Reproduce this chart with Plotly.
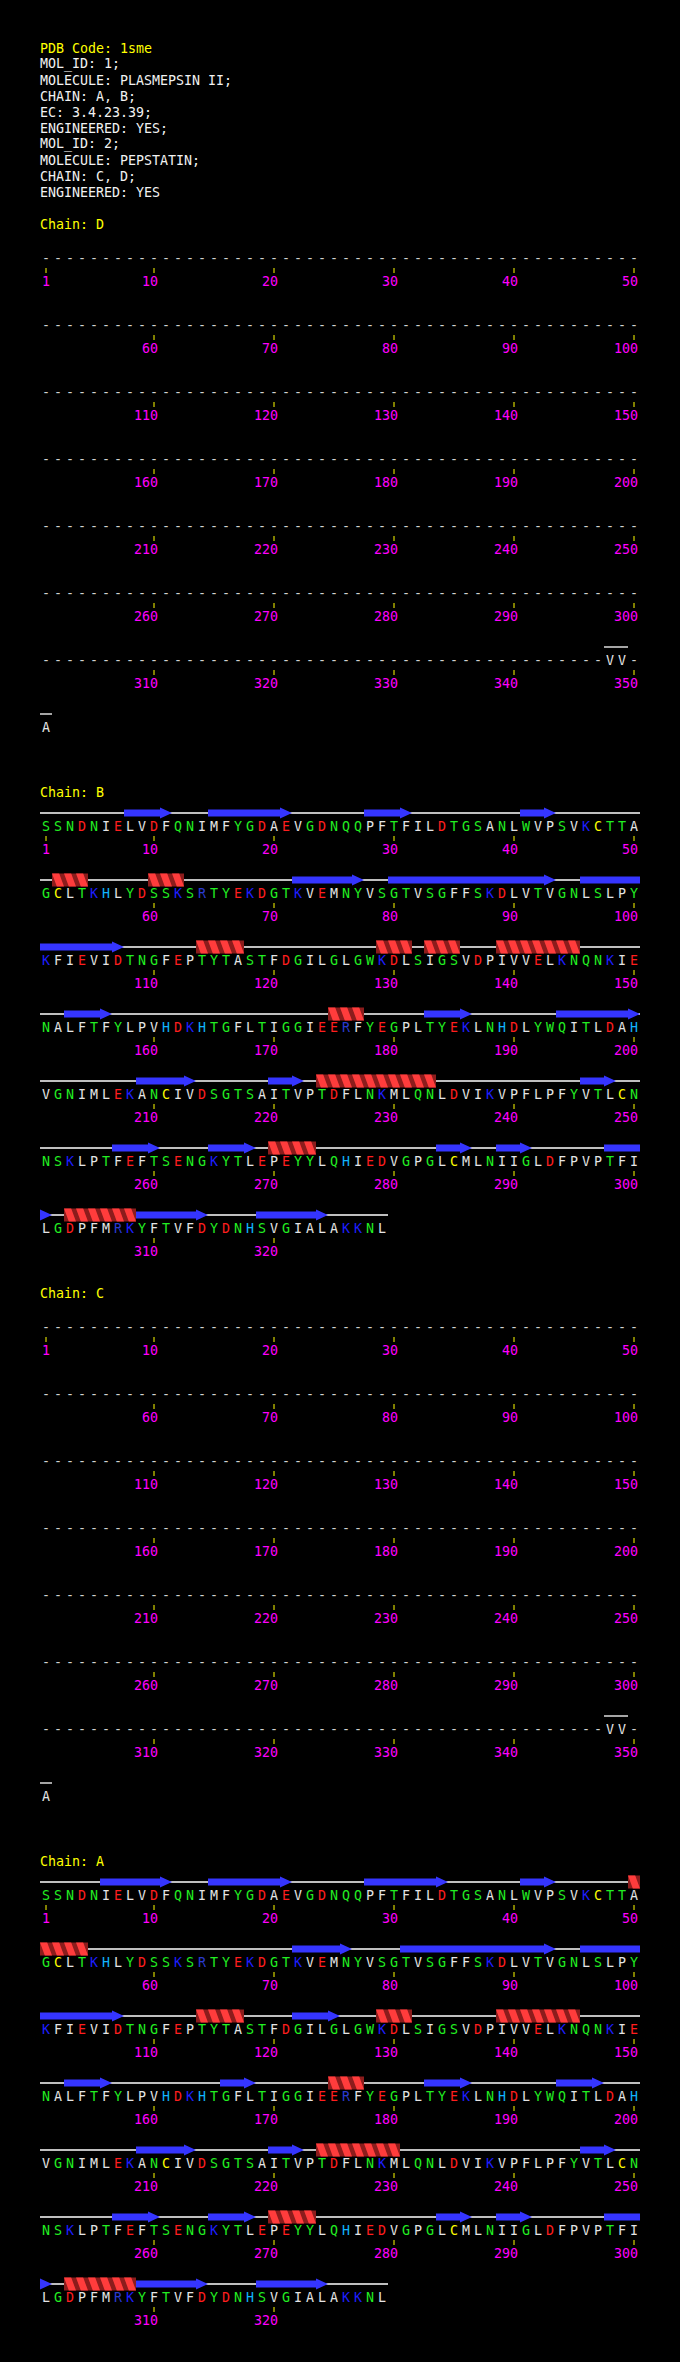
# plot.py
#
# Sequence / secondary-structure strip for PDB entry 1sme, in the style of
# the PDBsum "wiring" sequence pages: one row per 50 residues, strands as
# blue arrows, helices as red ribbons, coil as a white line.
#
import math

import plotly.graph_objects as go

PDB_CODE = "1sme"
HEADER_LINES = [
    "MOL_ID: 1;",
    "MOLECULE: PLASMEPSIN II;",
    "CHAIN: A, B;",
    "EC: 3.4.23.39;",
    "ENGINEERED: YES;",
    "MOL_ID: 2;",
    "MOLECULE: PEPSTATIN;",
    "CHAIN: C, D;",
    "ENGINEERED: YES",
]

CHAIN_ORDER = ["D", "B", "C", "A"]

# '-' = residue with no coordinates
SEQ_PEPSTATIN = "-" * 347 + "VV-A"
SEQ_PLASMEPSIN = (
    "SSNDNIELVDFQNIMFYGDAEVGDNQQPFTFILDTGSANLWVPSVKCTTA"
    "GCLTKHLYDSSKSRTYEKDGTKVEMNYVSGTVSGFFSKDLVTVGNLSLPY"
    "KFIEVIDTNGFEPTYTASTFDGILGLGWKDLSIGSVDPIVVELKNQNKIE"
    "NALFTFYLPVHDKHTGFLTIGGIEERFYEGPLTYEKLNHDLYWQITLDAH"
    "VGNIMLEKANCIVDSGTSAITVPTDFLNKMLQNLDVIKVPFLPFYVTLCN"
    "NSKLPTFEFTSENGKYTLEPEYYLQHIEDVGPGLCMLNIIGLDFPVPTFI"
    "LGDPFMRKYFTVFDYDNHSVGIALAKKNL"
)
SEQUENCES = {"D": SEQ_PEPSTATIN, "B": SEQ_PLASMEPSIN,
             "C": SEQ_PEPSTATIN, "A": SEQ_PLASMEPSIN}

STRANDS_A = [(6, 11), (15, 21), (28, 34), (41, 43), (72, 76), (81, 93),
             (96, 107), (122, 125), (153, 156), (166, 168), (183, 186),
             (194, 197), (209, 213), (220, 222), (246, 248), (257, 260),
             (265, 268), (284, 286), (289, 291), (298, 301), (309, 314),
             (319, 324)]
HELICES_A = [(50, 54), (114, 117), (129, 131), (139, 145), (175, 177),
             (224, 230), (270, 273), (303, 308)]

STRANDS_B = [(8, 11), (15, 21), (28, 31), (41, 43), (72, 77), (80, 93),
             (96, 107), (153, 156), (183, 186), (194, 200), (209, 213),
             (220, 222), (246, 248), (257, 260), (265, 268), (284, 286),
             (289, 291), (298, 301), (309, 314), (319, 324)]
HELICES_B = [(52, 54), (60, 62), (114, 117), (129, 131), (133, 135),
             (139, 145), (175, 177), (224, 233), (270, 273), (303, 308)]

STRANDS = {"A": STRANDS_A, "B": STRANDS_B, "C": [], "D": []}
HELICES = {"A": HELICES_A, "B": HELICES_B, "C": [], "D": []}

GREEN = "#22ee22"
RES_COLOURS = {
    "D": "#ff1e1e", "E": "#ff1e1e",
    "K": "#1e1eff", "R": "#2a3ad0",
    "H": "#10b4ff",
    "C": "#ffff00",
    "S": GREEN, "T": GREEN, "N": GREEN, "Q": GREEN,
    "G": GREEN, "Y": GREEN, "W": GREEN,
    "-": "#d0d0d0",
}
DEFAULT_RES_COLOUR = "#e4e4e4"

FONT = "DejaVu Sans Mono"
FONT_SIZE = 13.3
ROW_LEN = 50
PX_PER_COL = 12.0
COL1_PX = 46.0          # pixel centre of column 1
ROW_PITCH = 67
WIDTH, HEIGHT = 680, 2362


def px(xpix):
    """Pixel x -> column units used by the x axis."""
    return 1 + (xpix - COL1_PX) / PX_PER_COL


def col_of(res):
    return (res - 1) % ROW_LEN + 1


def row_of(res):
    return (res - 1) // ROW_LEN


def row_pieces(start, end):
    """Split a residue range at row boundaries."""
    pieces = []
    s = start
    while s <= end:
        row_last = (row_of(s) + 1) * ROW_LEN
        e = min(end, row_last)
        pieces.append((s, e))
        s = e + 1
    return pieces


fig = go.Figure()
annotations = []


def add_text(x, y, text, color, anchor="left"):
    annotations.append(dict(x=x, y=y, xref="x", yref="y", text=text,
                            showarrow=False, xanchor=anchor, yanchor="middle",
                            font=dict(family=FONT, size=FONT_SIZE, color=color)))


# header block
add_text(px(38), 48, f"PDB Code: {PDB_CODE}", "#ffff00")
for i, line in enumerate(HEADER_LINES):
    add_text(px(38), 64 + 16 * i, line, "#f2f2f2")

letters = {}           # colour -> (xs, ys, texts)
coil_x, coil_y = [], []
tick_x, tick_y = [], []
dark_x, dark_y = [], []
light_x, light_y = [], []
strand_x, strand_y = [], []

y = 224
for chain in CHAIN_ORDER:
    seq = SEQUENCES[chain]
    add_text(px(38), y, f"Chain: {chain}", "#ffff00")
    first_row_y = y + 36
    nrows = math.ceil(len(seq) / ROW_LEN)

    def letter_y(res):
        return first_row_y + row_of(res) * ROW_PITCH

    # residue letters, ticks and numbers
    for res, aa in enumerate(seq, start=1):
        c = col_of(res)
        ly = letter_y(res)
        colour = RES_COLOURS.get(aa, DEFAULT_RES_COLOUR)
        xs, ys, ts = letters.setdefault(colour, ([], [], []))
        xs.append(c)
        ys.append(ly)
        ts.append(aa)
        if res == 1 or res % 10 == 0:
            tick_x += [c, c, None]
            tick_y += [ly + 8, ly + 13, None]
            add_text(c + 6 / PX_PER_COL, ly + 21, str(res), "#ff00ff", anchor="right")

    # coil line under every run of residues that have coordinates
    for r in range(nrows):
        run = None
        last = min(len(seq), (r + 1) * ROW_LEN)
        for res in range(r * ROW_LEN + 1, last + 2):
            present = res <= last and seq[res - 1] != "-"
            if present and run is None:
                run = res
            elif not present and run is not None:
                sy = letter_y(run) - 15
                coil_x += [col_of(run) - 0.5, col_of(res - 1) + 0.5, None]
                coil_y += [sy, sy, None]
                run = None

    # helices: dark ribbon with light front stripes, one per residue
    for start, end in HELICES[chain]:
        for ps, pe in row_pieces(start, end):
            sy = letter_y(ps) - 15
            top, bot = sy - 6.5, sy + 6.5
            xa, xb = col_of(ps) - 0.5, col_of(pe) + 0.5
            dark_x += [xa, xb, xb, xa, None]
            dark_y += [top, top, bot, bot, None]
            for res in range(ps, pe + 1):
                left = col_of(res) - 0.5
                pts = [(left, top), (left + 0.6, top), (left + 1.0, bot), (left + 0.4, bot)]
                for xx, yy in pts:
                    light_x.append(min(max(xx, xa), xb))
                    light_y.append(yy)
                light_x.append(None)
                light_y.append(None)

    # strands: arrow body with a one-residue head on the last residue
    for start, end in STRANDS[chain]:
        for ps, pe in row_pieces(start, end):
            sy = letter_y(ps) - 15
            x0 = col_of(ps) - 0.5
            has_head = pe == end
            if has_head:
                xh = col_of(end) - 0.5
                xt = col_of(end) + 0.5
                if ps == end:
                    pts = [(xh, sy - 5.5), (xt, sy), (xh, sy + 5.5)]
                else:
                    pts = [(x0, sy - 3.5), (xh, sy - 3.5), (xh, sy - 5.5), (xt, sy),
                           (xh, sy + 5.5), (xh, sy + 3.5), (x0, sy + 3.5)]
            else:
                x1 = col_of(pe) + 0.5
                pts = [(x0, sy - 3.5), (x1, sy - 3.5), (x1, sy + 3.5), (x0, sy + 3.5)]
            for xx, yy in pts:
                strand_x.append(xx)
                strand_y.append(yy)
            strand_x.append(None)
            strand_y.append(None)

    last_row_y = first_row_y + (nrows - 1) * ROW_PITCH
    y = last_row_y + 63

fig.add_trace(go.Scatter(x=coil_x, y=coil_y, mode="lines",
                         line=dict(color="#ffffff", width=1.3), hoverinfo="skip"))
fig.add_trace(go.Scatter(x=dark_x, y=dark_y, mode="lines", fill="toself",
                         fillcolor="#8c1c1c", line=dict(width=0), hoverinfo="skip"))
fig.add_trace(go.Scatter(x=light_x, y=light_y, mode="lines", fill="toself",
                         fillcolor="#ff3c3c", line=dict(width=0), hoverinfo="skip"))
fig.add_trace(go.Scatter(x=strand_x, y=strand_y, mode="lines", fill="toself",
                         fillcolor="#3535ff", line=dict(width=0), hoverinfo="skip"))
fig.add_trace(go.Scatter(x=tick_x, y=tick_y, mode="lines",
                         line=dict(color="#ffff00", width=1), hoverinfo="skip"))
for colour, (xs, ys, ts) in letters.items():
    fig.add_trace(go.Scatter(x=xs, y=ys, text=ts, mode="text",
                             textposition="middle center",
                             textfont=dict(family=FONT, size=FONT_SIZE, color=colour),
                             hoverinfo="skip"))

fig.update_layout(
    width=WIDTH, height=HEIGHT,
    margin=dict(l=0, r=0, t=0, b=0),
    paper_bgcolor="#000000", plot_bgcolor="#000000",
    showlegend=False,
    annotations=annotations,
    xaxis=dict(range=[px(0), px(WIDTH)], visible=False, fixedrange=True),
    yaxis=dict(range=[HEIGHT, 0], visible=False, fixedrange=True),
)

# page itself black and without the default body margin
PAGE_STYLE = ("document.body.style.margin='0';"
              "document.body.style.background='#000000';")
fig.write_html("out.html", config={"displayModeBar": False}, post_script=PAGE_STYLE)
